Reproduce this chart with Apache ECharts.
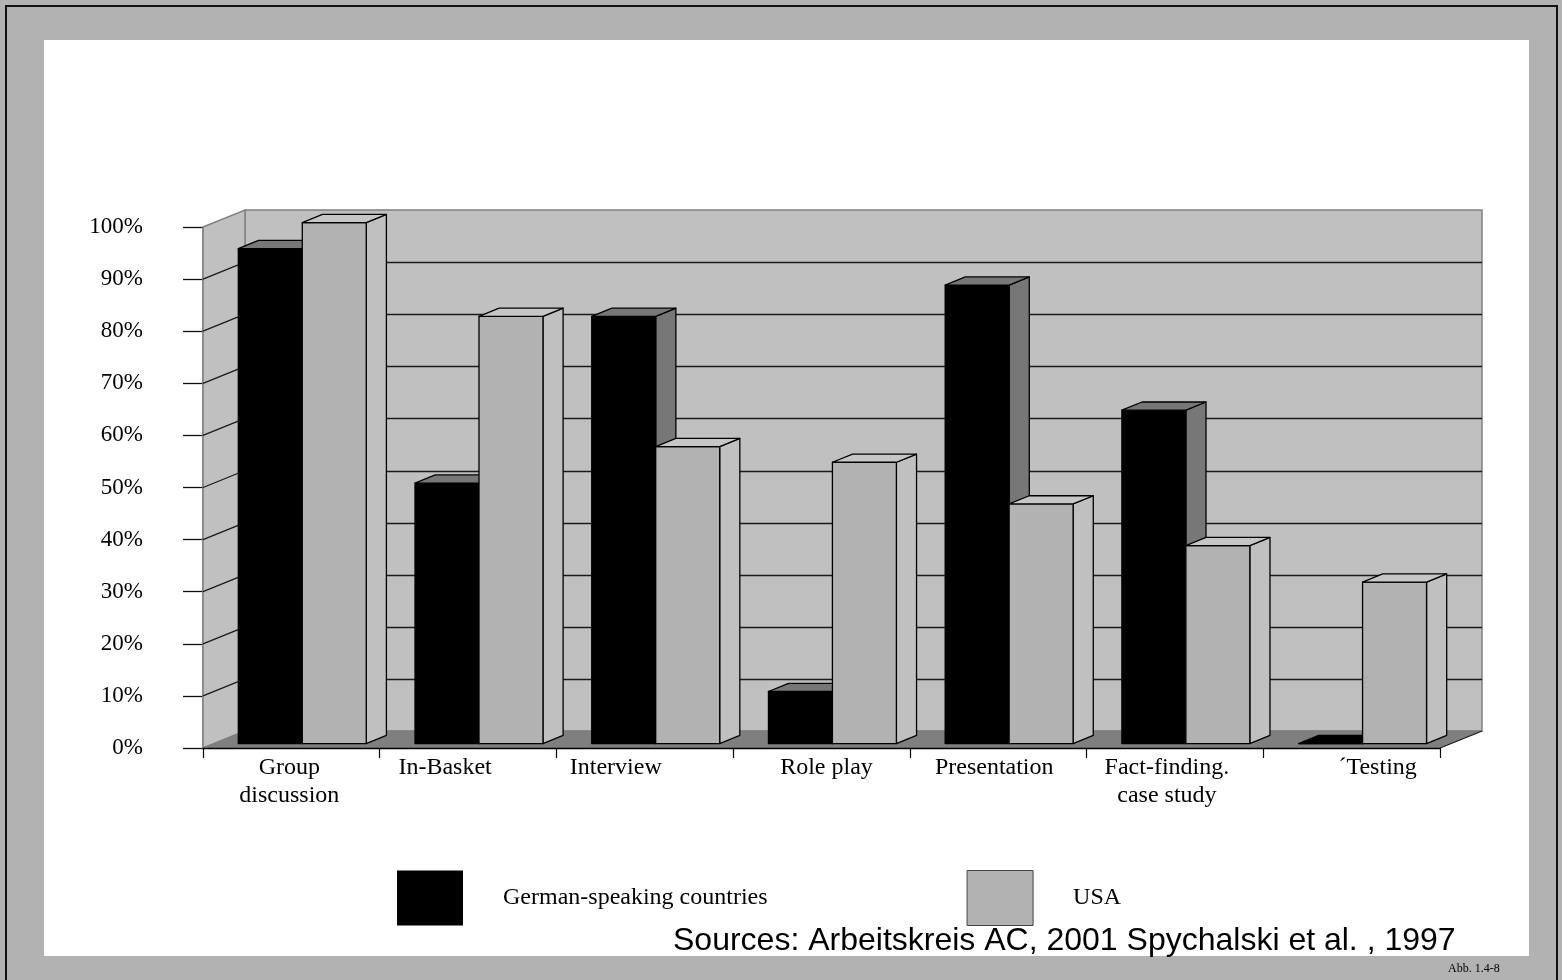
<!DOCTYPE html>
<html>
<head>
<meta charset="utf-8">
<title>Assessment center exercises</title>
<script src="https://cdn.jsdelivr.net/npm/echarts@6/dist/echarts.min.js"></script>
<style>
  html, body { margin: 0; padding: 0; background: #ffffff; }
  #chart { width: 1562px; height: 980px; }
</style>
</head>
<body>
<div id="chart"></div>
<script>
// ---- data -------------------------------------------------------------
const categories = ['Group\ndiscussion', 'In-Basket', 'Interview', 'Role play',
                    'Presentation', 'Fact-finding.\ncase study', '\u00b4Testing'];
const germanSpeaking = [95, 50, 82, 10, 88, 64, 0];
const usa = [100, 82, 57, 54, 46, 38, 31];
const seriesNames = ['German-speaking countries', 'USA'];
const yMin = 0, yMax = 100, yStep = 10;

// ---- layout / style constants -----------------------------------------
const DEPTH_X = 42, DEPTH_Y = 17;        // oblique depth of the floor and side wall
const BAR_FRONT = 0.26, BAR_BACK = 0.74; // bar placement along that depth
const BAR_RATIO = 0.362;                 // bar width as share of a category band
const labelShift = [-2, -23, -29, 5, -4, -8, 26];

const SERIF = "'Liberation Serif', 'Times New Roman', serif";
const SANS = "'Liberation Sans', Arial, sans-serif";

const colors = {
  frame: '#b2b2b2',
  wall: '#c0c0c0',
  wallEdge: '#808080',
  floor: '#7f7f7f',
  grid: '#1a1a1a',
  blackFront: '#000000', blackShade: '#777777',
  grayFront: '#b2b2b2', grayShade: '#c0c0c0', grayTop: '#c6c6c6'
};

const chart = echarts.init(document.getElementById('chart'), null, { renderer: 'canvas' });

function crisp(v) { return Math.round(v) + 0.5; }

// Walls, floor and the gridlines running along them
function renderBackdrop(params, api) {
  const band = api.size([1, 0])[0];
  const left = api.coord([0, yMin])[0] - band / 2;
  const right = api.coord([categories.length - 1, yMin])[0] + band / 2;
  const y0 = api.coord([0, yMin])[1];
  const yTop = api.coord([0, yMax])[1];
  const bl = left + DEPTH_X, br = right + DEPTH_X;
  const children = [];
  // back wall
  children.push({
    type: 'polygon',
    shape: { points: [[bl, yTop - DEPTH_Y], [br, yTop - DEPTH_Y], [br, y0 - DEPTH_Y], [bl, y0 - DEPTH_Y]] },
    style: { fill: colors.wall, stroke: colors.wallEdge, lineWidth: 1.5 }
  });
  // side wall
  children.push({
    type: 'polygon',
    shape: { points: [[left, yTop], [bl, yTop - DEPTH_Y], [bl, y0 - DEPTH_Y], [left, y0]] },
    style: { fill: colors.wall, stroke: colors.wallEdge, lineWidth: 1.5 }
  });
  // gridlines
  for (let v = yMin + yStep; v < yMax; v += yStep) {
    const y = api.coord([0, v])[1];
    const yb = crisp(y - DEPTH_Y);
    children.push({
      type: 'line',
      shape: { x1: bl, y1: yb, x2: br, y2: yb },
      style: { stroke: colors.grid, lineWidth: 1.3 }
    });
    children.push({
      type: 'line',
      shape: { x1: left, y1: y, x2: bl, y2: y - DEPTH_Y },
      style: { stroke: colors.grid, lineWidth: 1.3 }
    });
  }
  // floor
  children.push({
    type: 'polygon',
    shape: { points: [[left, y0], [bl, y0 - DEPTH_Y], [br, y0 - DEPTH_Y], [right, y0]] },
    style: { fill: colors.floor, stroke: colors.floor, lineWidth: 1 }
  });
  children.push({
    type: 'line',
    shape: { x1: right, y1: y0, x2: br, y2: y0 - DEPTH_Y },
    style: { stroke: '#222', lineWidth: 1.2 }
  });
  return { type: 'group', children: children };
}

// Oblique box for one bar
function boxRenderer(slot, front, shade, topFill) {
  return function (params, api) {
    const i = api.value(0), v = api.value(1);
    const band = api.size([1, 0])[0];
    const base = api.coord([i, yMin]);
    const top = api.coord([i, v]);
    const w = band * BAR_RATIO;
    const gap = (band - 2 * w) / 2;
    const fx = base[0] - band / 2 + gap + slot * w + DEPTH_X * BAR_FRONT;
    const fy0 = base[1] - DEPTH_Y * BAR_FRONT;
    const fy1 = top[1] - DEPTH_Y * BAR_FRONT;
    const dx = DEPTH_X * (BAR_BACK - BAR_FRONT);
    const dy = DEPTH_Y * (BAR_BACK - BAR_FRONT);
    const edge = { stroke: '#000', lineWidth: 1.3, lineJoin: 'round' };
    const flat = fy0 - fy1 < 0.5;
    return {
      type: 'group',
      children: [
        {
          type: 'polygon',
          shape: { points: [[fx + w, fy1], [fx + w + dx, fy1 - dy], [fx + w + dx, fy0 - dy], [fx + w, fy0]] },
          style: Object.assign({ fill: shade }, edge)
        },
        {
          type: 'rect',
          shape: { x: fx, y: fy1, width: w, height: fy0 - fy1 },
          style: Object.assign({ fill: front }, edge)
        },
        {
          type: 'polygon',
          shape: { points: [[fx, fy1], [fx + dx, fy1 - dy], [fx + w + dx, fy1 - dy], [fx + w, fy1]] },
          style: Object.assign({ fill: flat ? front : topFill }, edge)
        }
      ]
    };
  };
}

const option = {
  animation: false,
  backgroundColor: '#ffffff',
  grid: { left: 203, top: 227, right: 122, bottom: 232, containLabel: false },
  xAxis: {
    type: 'category',
    data: categories.map(function (c, i) {
      const s = labelShift[i];
      return { value: c, textStyle: { padding: s < 0 ? [0, -2 * s, 0, 0] : [0, 0, 0, 2 * s] } };
    }),
    boundaryGap: true,
    z: 5,
    axisLine: { show: true, lineStyle: { color: '#000', width: 1.3 } },
    axisTick: { show: true, length: 10, interval: 0, lineStyle: { color: '#000', width: 1.2 } },
    axisLabel: {
      interval: 0, margin: 6, color: '#000',
      fontFamily: SERIF, fontSize: 24, lineHeight: 28
    },
    splitLine: { show: false }
  },
  yAxis: {
    type: 'value',
    min: yMin, max: yMax, interval: yStep,
    axisLine: { show: true, lineStyle: { color: colors.wallEdge, width: 1.5 } },
    axisTick: { show: true, inside: false, length: 20, lineStyle: { color: '#111', width: 1.3 } },
    axisLabel: {
      margin: 60, color: '#000', fontFamily: SERIF, fontSize: 23,
      formatter: '{value}%'
    },
    splitLine: { show: false }
  },
  legend: {
    data: [
      { name: seriesNames[0] },
      { name: seriesNames[1], itemStyle: { borderColor: '#444', borderWidth: 1 } }
    ],
    left: 392, top: 865,
    icon: 'rect',
    itemWidth: 66, itemHeight: 55, itemGap: 199,
    textStyle: { color: '#000', fontFamily: SERIF, fontSize: 24, padding: [0, 0, 0, 35] },
    selectedMode: false
  },
  tooltip: { show: false },
  series: [
    {
      type: 'custom',
      name: 'backdrop',
      z: 1,
      silent: true,
      renderItem: renderBackdrop,
      data: [[0, yMin]]
    },
    {
      type: 'custom',
      name: seriesNames[0],
      z: 2,
      itemStyle: { color: colors.blackFront },
      renderItem: boxRenderer(0, colors.blackFront, colors.blackShade, colors.blackShade),
      data: germanSpeaking.map(function (v, i) { return [i, v]; })
    },
    {
      type: 'custom',
      name: seriesNames[1],
      z: 3,
      itemStyle: { color: colors.grayFront },
      renderItem: boxRenderer(1, colors.grayFront, colors.grayShade, colors.grayTop),
      data: usa.map(function (v, i) { return [i, v]; })
    }
  ],
  graphic: [
    {
      type: 'rect', z: -10, silent: true,
      shape: { x: 0, y: 0, width: 1562, height: 980 },
      style: { fill: colors.frame }
    },
    {
      type: 'rect', z: -9, silent: true,
      shape: { x: 6, y: 6, width: 1551, height: 1000 },
      style: { fill: 'none', stroke: '#111', lineWidth: 2 }
    },
    {
      type: 'rect', z: -8, silent: true,
      shape: { x: 44, y: 40, width: 1485, height: 916 },
      style: { fill: '#ffffff' }
    },
    {
      type: 'text', z: 10, silent: true,
      left: 673, top: 925,
      style: {
        text: 'Sources: Arbeitskreis AC, 2001 Spychalski et al. , 1997',
        fill: '#000', font: '32px ' + SANS
      }
    },
    {
      type: 'text', z: 10, silent: true,
      left: 1448, top: 963,
      style: { text: 'Abb. 1.4-8', fill: '#000', font: '12px ' + SERIF }
    }
  ]
};

chart.setOption(option);
</script>
</body>
</html>
